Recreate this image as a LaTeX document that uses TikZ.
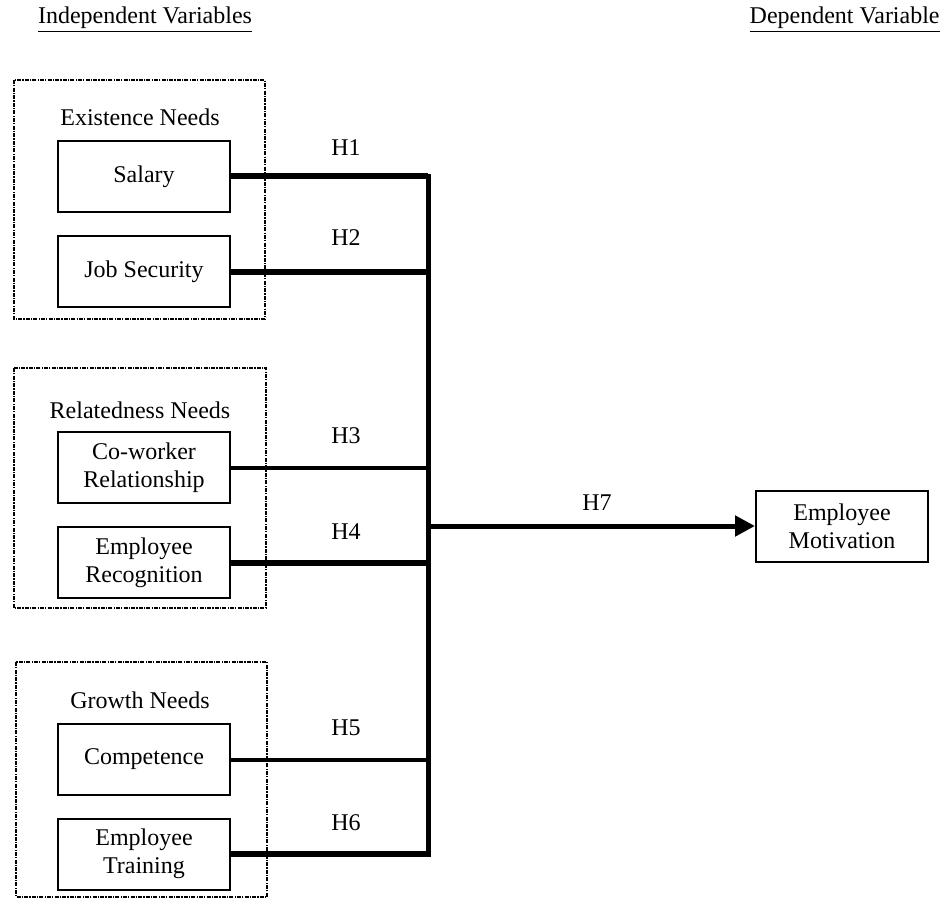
\documentclass[tikz,border=0pt]{standalone}
\usepackage{fontspec}
\setmainfont{Liberation Serif}
\usepackage{tikz}
\usetikzlibrary{arrows.meta, positioning}

\tikzset{
  varbox/.style={rectangle, draw, line width=1pt, minimum width=86pt, minimum height=35.5pt, align=center, inner sep=2pt},
  groupbox/.style={draw, line width=0.8pt, dash pattern=on 2pt off 0.6pt on 0.6pt off 0.6pt},
  heavy/.style={line width=3pt},
  light/.style={line width=2pt},
}

\begin{document}
\begin{tikzpicture}[x=0.5pt, y=-0.5pt, font=\fontsize{12}{14}\selectfont]
            \useasboundingbox (0,0) rectangle (943,899);

            % headings
            \node (indep) at (145,20) {\underline{Independent Variables}};
            \node[anchor=east, inner sep=0pt] (dep) at (940,20) {\underline{Dependent Variable}};

            % group frames
            \draw[groupbox] (14,80) rectangle (265,319);
            \draw[groupbox] (14,368) rectangle (266,608);
            \draw[groupbox] (16,662) rectangle (267,897);

            \node (existence) at (140,117) {Existence Needs};
            \node (relatedness) at (140,410) {Relatedness Needs};
            \node (growth) at (140,700) {Growth Needs};

            % variables
            \node[varbox] (salary) at (144,176.5) {Salary};
            \node[varbox] (jobsec) at (144,271.5) {Job Security};
            \node[varbox] (cowork) at (144,467.5) {Co-worker\\Relationship};
            \node[varbox] (recog) at (144,562.5) {Employee\\Recognition};
            \node[varbox] (compet) at (144,759.5) {Competence};
            \node[varbox] (training) at (144,854) {Employee\\Training};
            \node[varbox] (motiv) at (842,526) {Employee\\Motivation};

            % bus
            \coordinate (bustop) at (428,176.5);
            \coordinate (busbot) at (428,854);
            \coordinate (busmid) at (428,526);

            \draw[heavy] (salary.east) -- (salary -| bustop);
            \draw[heavy] (jobsec.east) -- (jobsec -| bustop);
            \draw[light] (cowork.east) -- (cowork -| bustop);
            \draw[heavy] (recog.east) -- (recog -| bustop);
            \draw[light] (compet.east) -- (compet -| bustop);
            \draw[heavy] (training.east) -- (training -| bustop);
            \draw[line width=2.5pt, line cap=rect] (bustop) -- (busbot);
            \draw[line width=2.5pt, -{Triangle[length=10pt, width=10pt]}] (busmid) -- (motiv.west);

            % hypotheses
            \node (h1) at (346,148) {H1};
            \node (h2) at (346,238) {H2};
            \node (h3) at (346,436) {H3};
            \node (h4) at (346,532) {H4};
            \node (h5) at (346,728) {H5};
            \node (h6) at (346,823) {H6};
            \node (h7) at (597,503) {H7};
        \end{tikzpicture}
\end{document}
